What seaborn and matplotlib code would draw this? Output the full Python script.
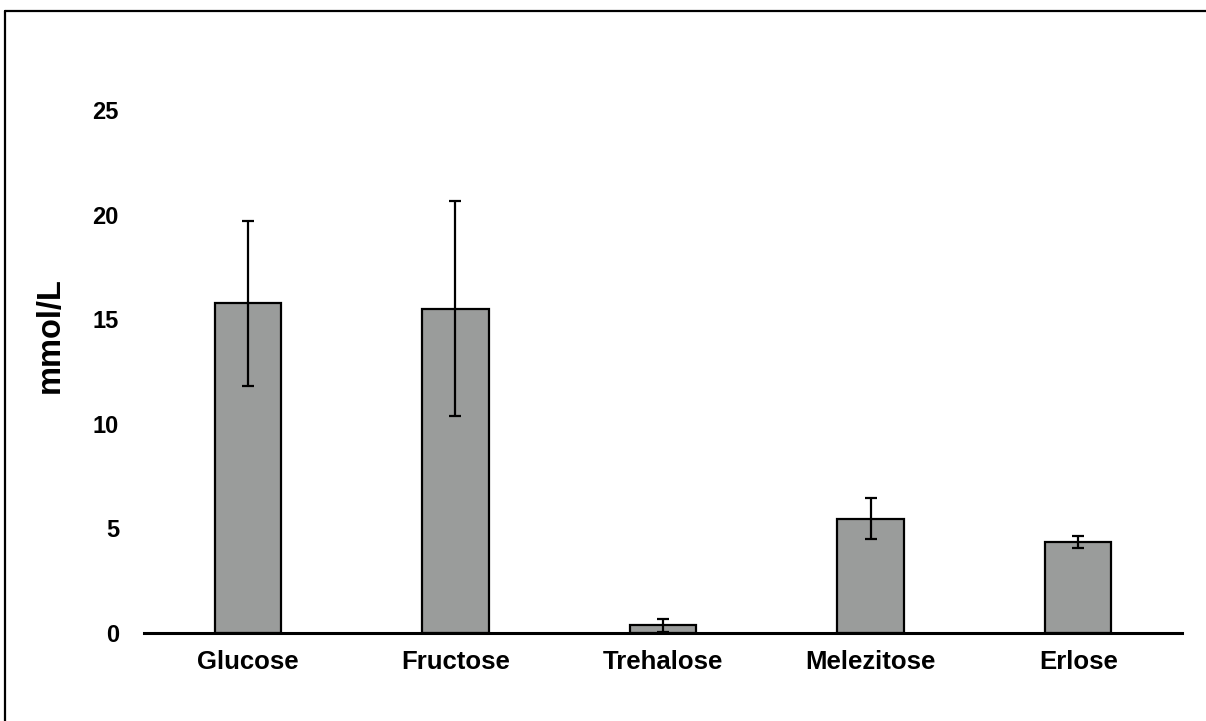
import matplotlib
matplotlib.use("Agg")
import matplotlib.pyplot as plt
from matplotlib.lines import Line2D
import seaborn as sns
import pandas as pd

# Sugar concentrations (mean and standard deviation, mmol/L)
sugars = ["Glucose", "Fructose", "Trehalose", "Melezitose", "Erlose"]
means = [15.75, 15.5, 0.37, 5.45, 4.35]
sds = [3.95, 5.15, 0.3, 0.98, 0.3]
y_ticks = [0, 5, 10, 15, 20, 25]

sns.set_theme(style="white")
plt.rcParams["font.family"] = ["Liberation Sans", "DejaVu Sans"]
plt.rcParams["font.weight"] = "bold"
plt.rcParams["text.color"] = "black"
plt.rcParams["axes.labelcolor"] = "black"
plt.rcParams["xtick.color"] = "black"
plt.rcParams["ytick.color"] = "black"

df = pd.DataFrame({"sugar": sugars, "mean": means, "sd": sds})

fig = plt.figure(figsize=(12.06, 7.21), dpi=100)
ax = fig.add_axes([0.1194, 0.1221, 0.8607, 0.7254])

sns.barplot(data=df, x="sugar", y="mean", order=sugars, color="#9a9c9b",
            saturation=1, width=0.32, edgecolor="black", linewidth=1.6,
            errorbar=None, ax=ax)
ax.errorbar(x=list(range(len(sugars))), y=df["mean"], yerr=df["sd"],
            fmt="none", ecolor="black", elinewidth=1.6, capsize=4.3,
            capthick=1.6, zorder=5)

ax.set_xlim(-0.5, len(sugars) - 0.5)
ax.set_ylim(0, 25)
ax.set_yticks(y_ticks)
ax.set_yticklabels([str(t) for t in y_ticks], fontsize=17, fontweight="bold",
                   color="black")
ax.set_xticks(range(len(sugars)))
ax.set_xticklabels(sugars, fontsize=18.5, fontweight="bold", color="black")
ax.tick_params(axis="y", length=0, pad=18)
ax.tick_params(axis="x", length=0, pad=12)

ax.set_xlabel("")
ax.set_ylabel("mmol/L", fontsize=23.5, fontweight="bold", color="black")
ax.yaxis.set_label_coords(-0.075, 0.57)

for side in ["left", "top", "right"]:
    ax.spines[side].set_visible(False)
ax.spines["bottom"].set_color("black")
ax.spines["bottom"].set_linewidth(2.2)

# Frame lines along the left and top of the figure
fig.add_artist(Line2D([5 / 1206, 5 / 1206], [0, 1 - 11 / 721],
                      transform=fig.transFigure, color="black", lw=1.6))
fig.add_artist(Line2D([5 / 1206, 1], [1 - 11 / 721, 1 - 11 / 721],
                      transform=fig.transFigure, color="black", lw=1.6))

fig.savefig("out.png", dpi=100, facecolor="white")
